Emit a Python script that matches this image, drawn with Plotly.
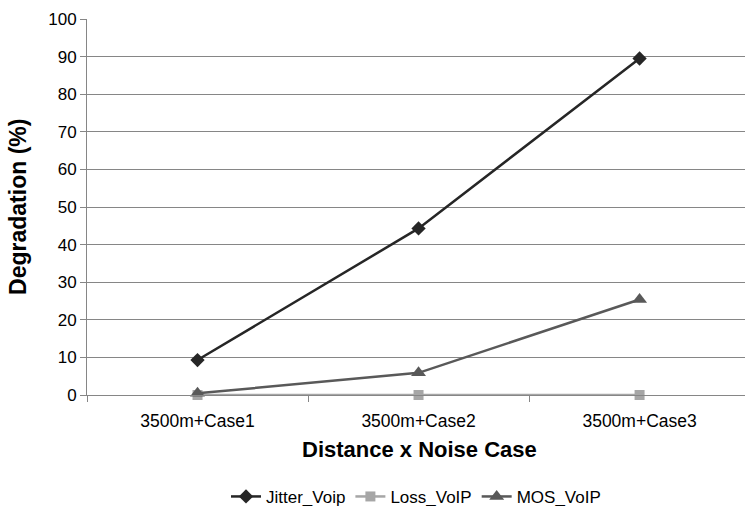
import plotly.graph_objects as go

categories = ["3500m+Case1", "3500m+Case2", "3500m+Case3"]
jitter_voip = [9.3, 44.3, 89.5]
loss_voip = [0, 0, 0]
mos_voip = [0.45, 5.9, 25.4]
y_ticks = [0, 10, 20, 30, 40, 50, 60, 70, 80, 90, 100]

FONT = "Liberation Sans, Arial, sans-serif"

fig = go.Figure()
fig.add_trace(go.Scatter(
    x=categories, y=jitter_voip, name="Jitter_Voip", mode="lines+markers",
    line=dict(color="#262626", width=2.5), cliponaxis=False,
    marker=dict(symbol="diamond", size=11, color="#262626"),
))
fig.add_trace(go.Scatter(
    x=categories, y=loss_voip, name="Loss_VoIP", mode="lines+markers",
    line=dict(color="#a6a6a6", width=2.5), cliponaxis=False,
    marker=dict(symbol="square", size=10, color="#a6a6a6"),
))
fig.add_trace(go.Scatter(
    x=categories, y=mos_voip, name="MOS_VoIP", mode="lines+markers",
    line=dict(color="#595959", width=2.5), cliponaxis=False,
    marker=dict(symbol="triangle-up", size=13, color="#595959"),
))

fig.update_layout(
    width=745, height=506,
    margin=dict(l=87, r=0, t=19, b=111, autoexpand=False),
    paper_bgcolor="white", plot_bgcolor="white",
    font=dict(family=FONT, size=14, color="#000000"),
    showlegend=True,
    legend=dict(orientation="h", x=0.5, xanchor="center", y=-0.271, yanchor="middle",
                xref="paper", font=dict(size=17), itemwidth=30, traceorder="normal"),
    xaxis=dict(
        type="category", range=[-0.5, 2.477], automargin=False,
        showline=True, linecolor="#868686", linewidth=1,
        ticks="outside", tickson="boundaries", ticklen=6, tickcolor="#868686",
        showgrid=False, zeroline=False, ticklabelstandoff=10,
        tickfont=dict(size=17.5),
    ),
    yaxis=dict(
        range=[0, 100], tickvals=y_ticks, automargin=False,
        showline=True, linecolor="#868686", linewidth=1,
        ticks="outside", ticklen=6, tickcolor="#868686",
        showgrid=True, gridcolor="#868686", gridwidth=1, zeroline=False,
        tickfont=dict(size=17),
    ),
    annotations=[
        dict(text="<b>Distance x Noise Case</b>", xref="paper", yref="paper",
             x=0.505, y=-0.146, xanchor="center", yanchor="middle", showarrow=False,
             font=dict(size=22)),
        dict(text="<b>Degradation (%)</b>", xref="paper", yref="paper",
             x=-0.105, y=0.5, xanchor="center", yanchor="middle", showarrow=False,
             textangle=-90, font=dict(size=23)),
    ],
)

fig.write_html("out.html", config={"displayModeBar": False},
               post_script="document.body.style.margin='0';document.body.style.overflow='hidden';")
